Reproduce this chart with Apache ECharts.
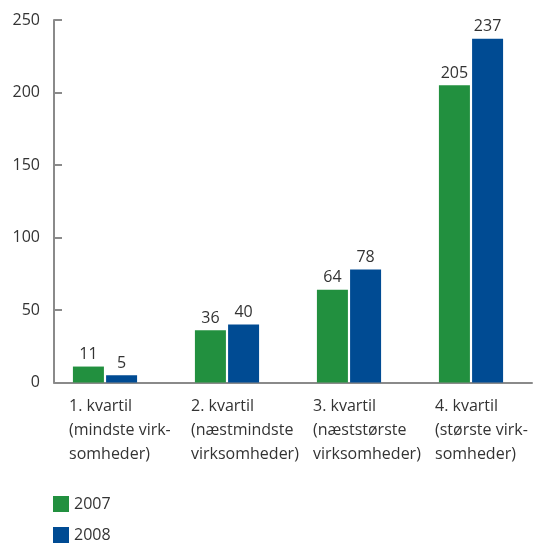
<!DOCTYPE html>
<html><head><meta charset="utf-8">
<script src="https://cdn.jsdelivr.net/npm/echarts@6/dist/echarts.min.js"></script>
<style>html,body{margin:0;padding:0;background:#fff}#c{width:533px;height:543px}</style>
</head><body><div id="c"></div>
<script>
const categories = ["1. kvartil\n(mindste virk-\nsomheder)", "2. kvartil\n(næstmindste\nvirksomheder)", "3. kvartil\n(næststørste\nvirksomheder)", "4. kvartil\n(største virk-\nsomheder)"];
const seriesNames = ["2007", "2008"];
const values2007 = [11, 36, 64, 205];
const values2008 = [5, 40, 78, 237];
const yTicks = { min: 0, max: 250, interval: 50 };

const font = "'Open Sans', sans-serif";
const txt = '#333';
const axisCol = '#8a8a8a';
const gTop = 20, gH = 362.5;

const chart = echarts.init(document.getElementById('c'));
chart.setOption({
  animation: false,
  textStyle: { fontFamily: font },
  grid: [
    { left: 44, top: gTop, width: 488, height: gH },
    { left: 54, top: gTop, width: 478, height: gH },
    { left: 8, top: gTop, width: 488, height: gH }
  ],
  legend: {
    orient: 'vertical', left: 53, top: 496, padding: 0, itemWidth: 16, itemHeight: 16, itemGap: 15,
    icon: 'rect', textStyle: { fontSize: 16, color: txt, fontFamily: font }, data: seriesNames
  },
  xAxis: [
    { type: 'category', gridIndex: 0, data: categories, axisLine: { show: false }, axisTick: { show: false }, axisLabel: { show: false } },
    { type: 'category', gridIndex: 1, data: categories, axisLine: { show: true, lineStyle: { color: axisCol, width: 2 } }, axisTick: { show: false }, axisLabel: { show: false } },
    { type: 'category', gridIndex: 2, data: categories, axisLine: { show: false }, axisTick: { show: false },
      axisLabel: { interval: 0, hideOverlap: false, align: 'left', margin: 12, fontSize: 16, lineHeight: 24, color: txt, fontFamily: font } }
  ],
  yAxis: [
    { type: 'value', gridIndex: 0, min: yTicks.min, max: yTicks.max, interval: yTicks.interval, show: false },
    { type: 'value', gridIndex: 1, min: yTicks.min, max: yTicks.max, interval: yTicks.interval,
      axisLine: { show: true, lineStyle: { color: axisCol, width: 2 } },
      axisTick: { show: true, inside: true, length: 8, lineStyle: { color: axisCol, width: 2 } },
      splitLine: { show: false },
      axisLabel: { fontSize: 16, color: txt, margin: 14, fontFamily: font } },
    { type: 'value', gridIndex: 2, min: yTicks.min, max: yTicks.max, show: false }
  ],
  series: [
    { name: seriesNames[0], type: 'bar', xAxisIndex: 0, yAxisIndex: 0, data: values2007, barWidth: 31, barGap: '7%',
      itemStyle: { color: '#22903f' },
      label: { show: true, position: 'top', distance: 4, fontSize: 16, color: txt, fontFamily: font } },
    { name: seriesNames[1], type: 'bar', xAxisIndex: 0, yAxisIndex: 0, data: values2008, barWidth: 31, barGap: '7%',
      itemStyle: { color: '#004b93' },
      label: { show: true, position: 'top', distance: 4, fontSize: 16, color: txt, fontFamily: font } }
  ]
});
</script></body></html>
